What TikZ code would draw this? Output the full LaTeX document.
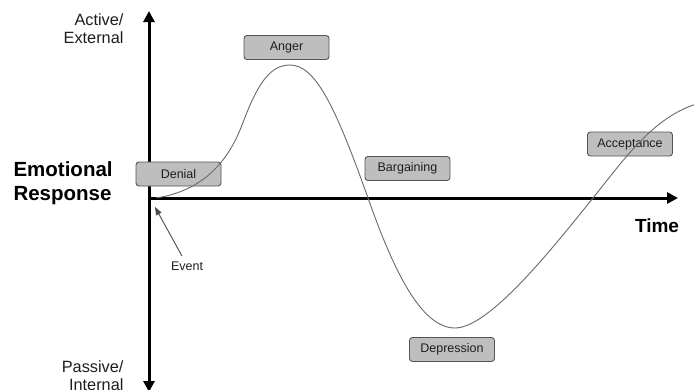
\documentclass[tikz,border=0pt]{standalone}
\usepackage{fontspec}
\setmainfont{Liberation Sans}
\usetikzlibrary{arrows.meta}
\definecolor{boxfill}{HTML}{BEBEBE}
\definecolor{boxline}{HTML}{555555}
\definecolor{curvecol}{HTML}{6A6A6A}
\definecolor{txt}{HTML}{1E1E1E}
\begin{document}
\begin{tikzpicture}[x=1pt,y=-1pt,
  stagebox/.style={draw=boxline, fill=boxfill, line width=0.9pt, rounded corners=3pt,
    minimum width=85pt, minimum height=24pt, inner sep=0pt, text=txt,
    font=\fontsize{12.5}{14}\selectfont},
  axisline/.style={line width=3pt, black, line cap=butt},
  sidelabel/.style={align=right, anchor=east, text=txt, font=\fontsize{16.3}{18}\selectfont},
  biglabel/.style={text=black, font=\bfseries\fontsize{20.5}{24}\selectfont}
]
\clip (0,0) rectangle (694,389);
\fill[white] (0,0) rectangle (694,389);

% axes
\coordinate (top) at (149,11);
\coordinate (bottom) at (149,392);
\coordinate (origin) at (149,198);
\coordinate (xend) at (678,198);
\draw[axisline, {Triangle[width=11pt,length=11pt]}-{Triangle[width=11pt,length=11pt]}] (bottom) -- (top);
\draw[axisline, -{Triangle[width=11pt,length=11pt]}] (origin) -- (xend);

% axis labels
\node[sidelabel] (act) at (127,29) {Active/\\External};
\node[sidelabel] (pas) at (127,376) {Passive/\\Internal};
\node[biglabel, align=left, anchor=west] (emo) at (10,183) {Emotional\\Response};
\node[biglabel, font=\bfseries\fontsize{19}{22}\selectfont] (time) at (657,226) {Time};

% stage boxes
\node[stagebox] (denial) at (178.5,174) {Denial};
\node[stagebox] (anger) at (286.5,47.5) {Anger};
\node[stagebox] (barg) at (407.5,168.5) {Bargaining};
\node[stagebox] (depr) at (452,349.5) {Depression};
\node[stagebox] (acc) at (630,144) {Acceptance};

% curve
\coordinate (c0) at (156,198);
\coordinate (c1) at (242,125);
\coordinate (c2) at (290,65);
\coordinate (c3) at (368,198);
\coordinate (c4) at (455,328);
\coordinate (c5) at (593,198);
\coordinate (c6) at (700,103);
\draw[curvecol, line width=0.9pt]
  (c0) .. controls (195,192) and (225,170) .. (c1)
       .. controls (256,88) and (268,65) .. (c2)
       .. controls (315,65) and (335,105) .. (c3)
       .. controls (392,266) and (420,328) .. (c4)
       .. controls (490,328) and (555,245) .. (c5)
       .. controls (625,158) and (655,115) .. (c6);

% event
\node[text=txt, font=\fontsize{12.5}{14}\selectfont] (event) at (187,266) {Event};
\coordinate (evtip) at (155,207);
\draw[curvecol!70!black, line width=0.9pt, -{Triangle[width=6pt,length=8pt]}] (event.north) ++(-5,-2) -- (evtip);
\end{tikzpicture}
\end{document}
